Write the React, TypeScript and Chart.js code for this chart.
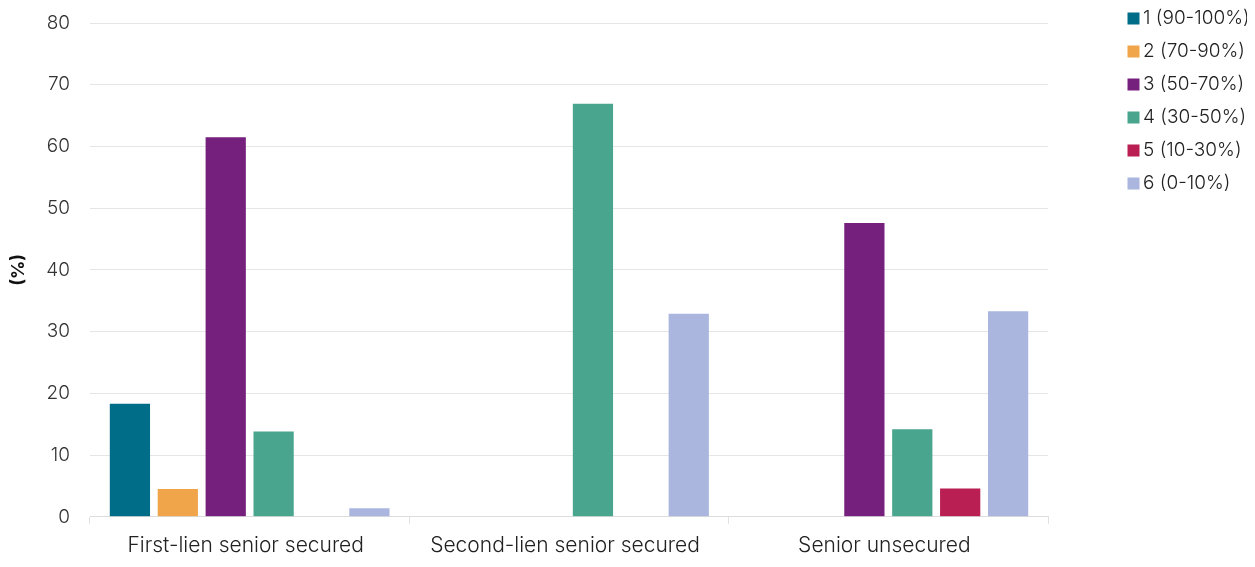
import React, { useEffect, useRef } from "react";
import { Chart, registerables } from "chart.js";
Chart.register(...registerables);

const categories = ["First-lien senior secured", "Second-lien senior secured", "Senior unsecured"];
const seriesLabels = ["1 (90-100%)", "2 (70-90%)", "3 (50-70%)", "4 (30-50%)", "5 (10-30%)", "6 (0-10%)"];
const series1 = [18.3, null, null];
const series2 = [4.5, null, null];
const series3 = [61.5, null, 47.6];
const series4 = [13.8, 66.9, 14.2];
const series5 = [null, null, 4.6];
const series6 = [1.4, 32.9, 33.3];
const colors = ["#006d88", "#f0a54a", "#76207d", "#4aa58e", "#b91f52", "#aab6de"];
const yTicks = [0, 10, 20, 30, 40, 50, 60, 70, 80];

const LEGEND_WIDTH = 199;
const LEGEND_DX = 71.5;
const LEGEND_DY = -13;

const legendPatch = {
  id: "legendPatch",
  beforeLayout(chart: any) {
    const lg = chart.legend;
    if (lg && !lg._patched) {
      const origFit = lg.fit.bind(lg);
      lg.fit = function () {
        origFit();
        this.width = LEGEND_WIDTH;
      };
      const origDraw = lg.draw.bind(lg);
      lg.draw = function () {
        const ctx = this.ctx;
        ctx.save();
        ctx.translate(LEGEND_DX, LEGEND_DY);
        origDraw();
        ctx.restore();
      };
      lg._patched = true;
    }
  },
};

export default function App() {
  const ref = useRef<HTMLCanvasElement>(null);
  useEffect(() => {
    if (!ref.current) return;
    const all = [series1, series2, series3, series4, series5, series6];
    const font = "Inter";
    const chart = new Chart(ref.current, {
      type: "bar",
      data: {
        labels: categories,
        datasets: all.map((d, i) => ({
          label: seriesLabels[i],
          data: d,
          backgroundColor: colors[i],
          borderWidth: 0,
          categoryPercentage: 0.9,
          barPercentage: 0.84,
        })),
      },
      plugins: [legendPatch],
      options: {
        animation: false,
        responsive: false,
        maintainAspectRatio: false,
        devicePixelRatio: 1,
        layout: { padding: 0 },
        plugins: {
          legend: {
            position: "right",
            align: "start",
            labels: {
              usePointStyle: true,
              pointStyle: "rect",
              boxWidth: 0.01,
              boxHeight: 12,
              padding: 14,
              color: "#222",
              font: { family: font, size: 19, weight: 300 },
            },
          },
          tooltip: { enabled: false },
        },
        scales: {
          x: {
            grid: { display: true, drawOnChartArea: false, drawTicks: true, tickLength: 7, color: "#e2e2e2", offset: true },
            border: { color: "#dddddd" },
            ticks: { color: "#222", font: { family: font, size: 21, weight: 300 }, padding: 9, labelOffset: -4, maxRotation: 0 },
          },
          y: {
            min: 0,
            max: 80,
            afterFit: (s: any) => { s.width = 82; s.paddingTop = 15; s.paddingBottom = 0; },
            afterBuildTicks: (s: any) => { s.ticks = yTicks.map((v) => ({ value: v })); },
            grid: { color: "#e6e6e6", drawTicks: false },
            border: { display: false },
            ticks: { color: "#333", font: { family: font, size: 19, weight: 300 }, padding: 20 },
            title: { display: true, text: "(%)", padding: 0, color: "#111", font: { family: font, size: 18, weight: "bold" } },
          },
        },
      },
    });
    return () => chart.destroy();
  }, []);
  return (
    <div style={{ width: 1239, height: 559, marginBottom: -8, overflow: "hidden" }}>
      <canvas ref={ref} width={1239} height={559} style={{ display: "block", width: 1239, height: 559 }} />
    </div>
  );
}
